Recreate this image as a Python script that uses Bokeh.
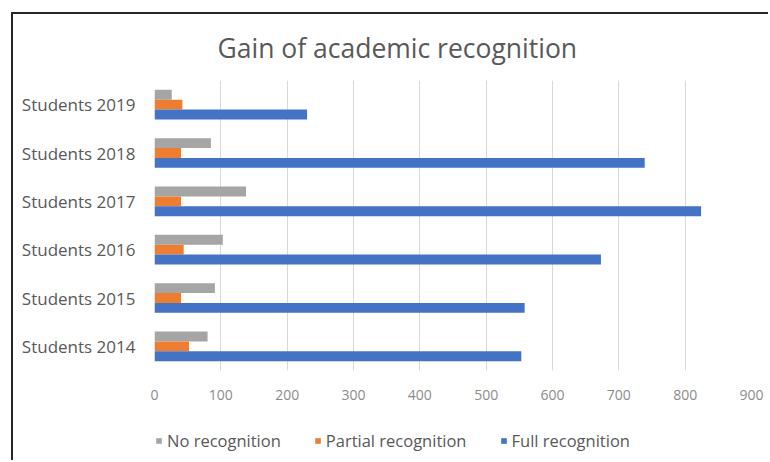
from bokeh.plotting import figure
from bokeh.layouts import column
from bokeh.models import ColumnDataSource, Legend, LegendItem, Label, FactorRange
from bokeh.transform import dodge
from bokeh.embed import file_html
from bokeh.resources import INLINE

categories = ["Students 2014", "Students 2015", "Students 2016", "Students 2017", "Students 2018", "Students 2019"]
no_recognition = [80, 91, 103, 138, 85, 26]
partial_recognition = [52, 40, 44, 40, 40, 42]
full_recognition = [553, 558, 673, 824, 739, 230]
x_ticks = [0, 100, 200, 300, 400, 500, 600, 700, 800, 900]
series_names = ["No recognition", "Partial recognition", "Full recognition"]
series_fields = ["no", "part", "full"]
series_colors = ["#A5A5A5", "#ED7D31", "#4472C4"]

TITLE = "Gain of academic recognition"
FONT = "Open Sans"
TEXT = "#595959"

src = ColumnDataSource(dict(cat=categories, no=no_recognition, part=partial_recognition, full=full_recognition))


def strip(h):
    f = figure(width=755, height=h, x_range=(0, 1), y_range=(0, 1), output_backend="svg",
               toolbar_location=None, x_axis_type=None, y_axis_type=None,
               min_border_left=0, min_border_right=0, min_border_top=0, min_border_bottom=0)
    f.outline_line_color = None
    f.grid.grid_line_color = None
    f.background_fill_color = "white"
    f.border_fill_color = "white"
    return f


# title strip (frame aligned with the chart frame by the column)
p0 = strip(66)
p0.add_layout(Label(x=63, y=33, x_units="screen", y_units="screen", text=TITLE,
                    text_align="left", text_baseline="alphabetic", text_font=FONT,
                    text_font_size="26.5px", text_color=TEXT))

p = figure(width=755, height=344, y_range=FactorRange(*categories), x_range=(0, 900),
           output_backend="svg", toolbar_location=None,
           min_border_left=141, min_border_right=17, min_border_top=0, min_border_bottom=54)
p.outline_line_color = None
p.background_fill_color = "white"
p.border_fill_color = "white"

bh = 0.205
offsets = [bh, 0, -bh]
for field, col, off in zip(series_fields, series_colors, offsets):
    p.hbar(y=dodge("cat", off, range=p.y_range), right=field, left=0, height=bh, source=src,
           fill_color=col, line_color=None)

p.xaxis.ticker = x_ticks
p.xaxis.axis_line_color = None
p.xaxis.major_tick_line_color = None
p.xaxis.minor_tick_line_color = None
p.xaxis.major_label_text_color = "#8C8C8C"
p.xaxis.major_label_text_font = FONT
p.xaxis.major_label_text_font_size = "14px"
p.xaxis.major_label_standoff = 13

p.yaxis.axis_line_color = None
p.yaxis.major_tick_line_color = None
p.yaxis.minor_tick_line_color = None
p.yaxis.major_label_text_color = TEXT
p.yaxis.major_label_text_font = FONT
p.yaxis.major_label_text_font_size = "17px"
p.yaxis.major_label_standoff = 13

p.xgrid.grid_line_color = "#D9D9D9"
p.ygrid.grid_line_color = None

# legend strip below the chart
p2 = figure(width=755, height=36, x_range=p.x_range, y_range=p.y_range, output_backend="svg",
            toolbar_location=None, x_axis_type=None, y_axis_type=None,
            min_border_left=0, min_border_right=0, min_border_top=0, min_border_bottom=0)
p2.outline_line_color = None
p2.grid.grid_line_color = None
p2.background_fill_color = "white"
p2.border_fill_color = "white"
items = []
for name, field, col in zip(series_names, series_fields, series_colors):
    r = p2.hbar(y="cat", right=field, left=0, height=bh, source=src, fill_color=col,
                line_color=None, visible=False)
    items.append(LegendItem(label=name, renderers=[r]))

legend = Legend(items=items, orientation="horizontal", location=(1, 8), margin=0, padding=0,
                label_text_font=FONT, label_text_font_size="16.5px", label_text_color=TEXT,
                label_height=20, glyph_width=7, glyph_height=7, spacing=33, label_standoff=5,
                border_line_color=None, background_fill_alpha=0,
                inactive_fill_alpha=0)
p2.add_layout(legend, "center")

layout = column(p0, p, p2, spacing=0,
                styles={"border-top": "2px solid #262626", "border-left": "2px solid #262626",
                        "margin-left": "11px", "margin-top": "12px"})

open("out.html", "w").write(file_html(layout, INLINE))
